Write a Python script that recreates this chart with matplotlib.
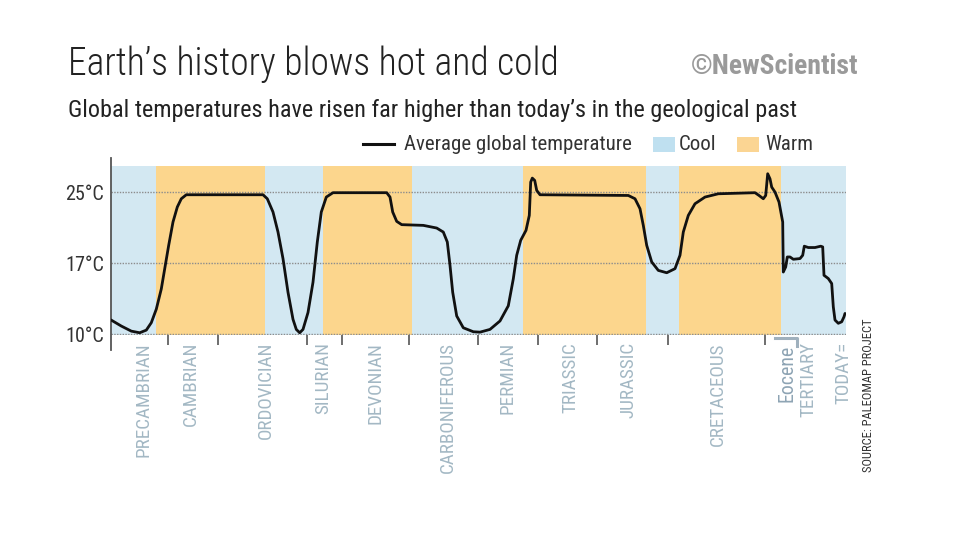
import matplotlib
matplotlib.use("Agg")
import matplotlib.pyplot as plt
import matplotlib.transforms as mtransforms
from matplotlib.patches import Rectangle
from matplotlib.lines import Line2D
import numpy as np

FONT = ['Liberation Sans Narrow', 'Roboto Condensed', 'Liberation Sans', 'DejaVu Sans']
plt.rcParams['font.family'] = FONT

# ---------------- data ----------------
# position along the (non-linear) geological timeline, 0 = left edge, 735 = today
curve_pos = [0, 10.3, 20.3, 28.7, 35.3, 40.3, 45.3, 50.3, 54.3, 57.7,
             62, 66.3, 70.3, 75.3, 152, 156.3, 162, 167, 172, 177,
             182, 185.3, 188.7, 192, 197, 202, 206.3, 210.3, 215.3, 222,
             275.7, 279, 281.7, 285.7, 290.7, 312.3, 325.7, 332.3, 336.3, 339,
             341.7, 345.7, 352.3, 362.3, 369, 379, 389, 397.3, 402.3, 405.7,
             409.7, 415, 418.3, 419.7, 421.3, 423.7, 425.7, 429,
             517.3, 524, 529, 532.3, 535.7, 540.7, 547.3, 555.7, 564, 569,
             572.3, 577.3, 584, 594, 607.3, 644, 648, 652.3, 654.7, 656.7,
             659, 660.7, 664, 668, 671.7, 672.3,
             674.7, 676.3, 679, 682.3, 689, 691.7, 693.3, 697.3, 704, 709.7,
             711.7, 713, 717.3, 720.7, 722.3, 724, 727.3, 730.7, 733, 734]
curve_temp = [11.43, 10.83, 10.33, 10.17, 10.43, 11.16, 12.49, 14.48, 16.80, 19.02,
              21.64, 23.32, 24.25, 24.70, 24.70, 24.25, 22.76, 20.51, 17.52, 14.15,
              11.49, 10.50, 10.17, 10.50, 12.16, 15.14, 19.39, 22.76, 24.44, 24.93,
              24.93, 24.44, 22.76, 21.71, 21.34, 21.26, 20.96, 20.51, 19.39, 16.80,
              14.15, 11.82, 10.66, 10.27, 10.23, 10.50, 11.33, 12.82, 15.47, 17.90,
              19.58, 20.70, 22.38, 26.12, 26.57, 26.31, 25.19, 24.70,
              24.62, 24.25, 23.13, 21.26, 19.02, 17.15, 16.30, 16.07, 16.47, 17.90,
              20.51, 22.38, 23.69, 24.44, 24.81, 24.93, 24.62, 24.25, 24.62, 27.06,
              26.49, 25.56, 25.0, 23.88, 21.64, 16.14,
              16.64, 17.71, 17.71, 17.45, 17.53, 17.90, 18.92, 18.77, 18.77, 18.92,
              18.84, 15.82, 15.50, 15.01, 12.72, 11.42, 11.10, 11.25, 11.74, 12.07]

band_edges = [0, 45, 154, 212, 301, 412, 535, 568, 670, 735]
band_kinds = ['cool', 'warm', 'cool', 'warm', 'cool', 'warm', 'cool', 'warm', 'cool']

tick_pos = [57, 107, 196, 231, 298, 367, 427, 486, 557, 654]
period_labels = ['PRECAMBRIAN', 'CAMBRIAN', 'ORDOVICIAN', 'SILURIAN', 'DEVONIAN', 'CARBONIFEROUS',
                 'PERMIAN', 'TRIASSIC', 'JURASSIC', 'CRETACEOUS', 'TERTIARY', 'TODAY=']
period_label_pos = [32, 80, 155, 212, 265, 337, 397, 459, 518, 607, 697, 732]
eocene_label = 'Eocene'
eocene_pos = 676
eocene_span = [664, 686]

y_ticks = [10, 17, 25]
y_tick_labels = ['10°C', '17°C', '25°C']

COOL = '#d3e8f2'
WARM = '#fcd68d'
COOL_SW = '#bfe0f0'
WARM_SW = '#fbd593'
LABEL_C = '#a3b8c4'

# ---------------- figure ----------------
fig = plt.figure(figsize=(9.6, 5.4), dpi=100)
W, H = 960, 540
ax_l, ax_r, ax_t, ax_b = 111, 846, 166, 335
ax = fig.add_axes([ax_l / W, 1 - ax_b / H, (ax_r - ax_l) / W, (ax_b - ax_t) / H])


def fwd(y):
    y = np.asarray(y, dtype=float)
    return np.where(y >= 17, 1 + (y - 17) / 8.0, (y - 10) / 7.0)


def inv(u):
    u = np.asarray(u, dtype=float)
    return np.where(u >= 1, 17 + (u - 1) * 8.0, 10 + u * 7.0)


ax.set_yscale('function', functions=(fwd, inv))
ax.set_xlim(band_edges[0], band_edges[-1])
ax.set_ylim(9.95, 27.93)

for a, b, k in zip(band_edges[:-1], band_edges[1:], band_kinds):
    ax.axvspan(a, b, color=COOL if k == 'cool' else WARM, lw=0, zorder=0)

for yv in y_ticks:
    ax.axhline(yv, color='#8c8c8c', lw=1.0, ls=(0, (1, 1)), zorder=1)

ax.plot(curve_pos, curve_temp, color='#111111', lw=2.0, solid_joinstyle='round',
        solid_capstyle='round', zorder=3)

for s in ax.spines.values():
    s.set_visible(False)

ax.set_yticks(y_ticks)
ax.set_yticklabels(y_tick_labels, fontsize=14.5, color='#333333')
ax.tick_params(axis='y', length=0, pad=5)
ax.set_xticks(tick_pos)
ax.set_xticklabels([])
ax.tick_params(axis='x', length=7, width=1.2, color='#555555', direction='out')
ax.minorticks_off()

trans = mtransforms.blended_transform_factory(ax.transData, ax.transAxes)
# left axis line (extends beyond plot)
hpx = ax_b - ax_t
ax.add_line(Line2D([0, 0], [1 + 8 / hpx, -15 / hpx], transform=trans, color='#555555',
                   lw=1.3, clip_on=False))

lab_y = -7 / hpx
for lab, p in zip(period_labels, period_label_pos):
    ax.text(p, lab_y, lab, transform=trans, rotation=90, ha='center', va='top',
            fontsize=13.8, color=LABEL_C)
ax.text(eocene_pos, -10 / hpx, eocene_label, transform=trans, rotation=90, ha='center',
        va='top', fontsize=14.3, color='#8ea4b4')
ax.add_line(Line2D([eocene_span[0], eocene_span[1], eocene_span[1]],
                   [-3 / hpx, -3 / hpx, -11 / hpx], transform=trans, color='#9fb0bd',
                   lw=2.2, clip_on=False))

# ---------------- titles ----------------
fig.text(68 / W, 1 - 75 / H, "Earth\u2019s history blows hot and cold", fontsize=27,
         fontweight='light', color='#222222', va='baseline', ha='left')
fig.text(858 / W, 1 - 74 / H, "\u00a9NewScientist", fontsize=20, fontweight='bold',
         color='#9a9a9a', va='baseline', ha='right')
fig.text(68 / W, 1 - 117 / H,
         "Global temperatures have risen far higher than today\u2019s in the geological past",
         fontsize=17.5, color='#222222', va='baseline', ha='left')

# ---------------- legend ----------------
ly = 1 - 144 / H
fig.add_artist(Line2D([363 / W, 394 / W], [ly, ly], color='#111111', lw=2.2))
fig.text(404 / W, 1 - 150.5 / H, "Average global temperature", fontsize=15,
         color='#333333', va='baseline')
fig.add_artist(Rectangle((653 / W, 1 - 152 / H), 22 / W, 15 / H, color=COOL_SW, lw=0))
fig.text(679 / W, 1 - 150.5 / H, "Cool", fontsize=15, color='#333333', va='baseline')
fig.add_artist(Rectangle((737 / W, 1 - 152 / H), 22 / W, 15 / H, color=WARM_SW, lw=0))
fig.text(765 / W, 1 - 150.5 / H, "Warm", fontsize=15, color='#333333', va='baseline')

fig.text(868 / W, 1 - 318 / H, "SOURCE: PALEOMAP PROJECT", rotation=90, fontsize=9,
         color='#333333', ha='center', va='top')

fig.savefig('out.png', dpi=100, facecolor='white')
